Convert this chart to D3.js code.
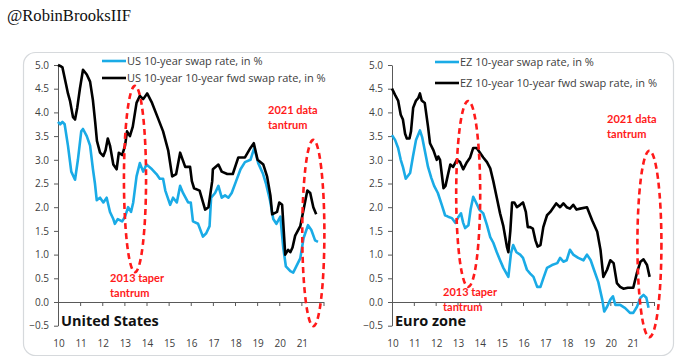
<!DOCTYPE html>
<html>
<head>
<meta charset="utf-8">
<script src="https://cdn.jsdelivr.net/npm/d3@7"></script>
<style>
  body { margin: 0; background: #fff; }
  svg { display: block; }
</style>
</head>
<body>
<svg id="chart"></svg>
<script>
// values, [year, %]
let usSwap = [[2010.0,3.8],[2010.1,3.75],[2010.2,3.8],[2010.3,3.75],[2010.45,3.3],[2010.6,2.75],[2010.77,2.58],[2010.9,3.0],[2011.05,3.6],[2011.13,3.65],[2011.3,3.5],[2011.45,3.3],[2011.58,2.8],[2011.67,2.5],[2011.75,2.15],[2011.9,2.2],[2012.05,2.1],[2012.2,2.2],[2012.35,1.9],[2012.5,1.75],[2012.57,1.65],[2012.7,1.75],[2012.9,1.7],[2013.03,1.8],[2013.17,2.0],[2013.3,1.9],[2013.4,2.1],[2013.55,2.65],[2013.7,2.93],[2013.85,2.75],[2014.0,2.9],[2014.25,2.8],[2014.45,2.7],[2014.6,2.6],[2014.75,2.6],[2014.85,2.35],[2015.07,2.05],[2015.2,2.2],[2015.37,2.1],[2015.52,2.45],[2015.65,2.3],[2015.88,2.1],[2016.0,2.1],[2016.1,1.7],[2016.33,1.65],[2016.55,1.38],[2016.7,1.45],[2016.85,1.6],[2016.92,2.2],[2017.1,2.3],[2017.25,2.45],[2017.4,2.2],[2017.55,2.25],[2017.7,2.2],[2017.85,2.3],[2018.05,2.55],[2018.25,2.8],[2018.45,2.95],[2018.7,3.0],[2018.87,3.25],[2019.05,2.93],[2019.27,2.7],[2019.4,2.5],[2019.58,2.15],[2019.73,1.75],[2019.87,1.65],[2020.05,1.8],[2020.18,1.15],[2020.3,0.75],[2020.5,0.65],[2020.63,0.62],[2020.77,0.75],[2020.95,0.92],[2021.1,1.35],[2021.3,1.62],[2021.45,1.52],[2021.62,1.3],[2021.75,1.27]]

let usFwd = [[2010.0,5.0],[2010.1,4.98],[2010.2,4.95],[2010.36,4.6],[2010.45,4.4],[2010.54,4.25],[2010.68,3.9],[2010.77,3.85],[2010.87,4.1],[2010.99,4.5],[2011.13,4.9],[2011.3,4.8],[2011.45,4.65],[2011.58,4.25],[2011.68,3.8],[2011.76,3.4],[2011.9,3.15],[2012.05,3.08],[2012.15,3.2],[2012.25,3.45],[2012.35,3.3],[2012.5,2.9],[2012.65,2.8],[2012.75,3.15],[2012.9,3.1],[2013.03,3.3],[2013.12,3.6],[2013.25,3.5],[2013.38,3.7],[2013.55,4.2],[2013.7,4.35],[2013.85,4.28],[2014.03,4.4],[2014.25,4.2],[2014.5,3.9],[2014.75,3.6],[2014.98,3.2],[2015.16,2.65],[2015.34,2.7],[2015.52,3.15],[2015.75,2.85],[2015.97,2.85],[2016.05,2.55],[2016.15,2.4],[2016.4,2.35],[2016.65,1.95],[2016.8,2.0],[2016.97,2.55],[2017.0,2.8],[2017.25,2.9],[2017.4,2.75],[2017.65,2.7],[2017.9,2.7],[2018.15,3.05],[2018.45,3.05],[2018.7,3.25],[2018.85,3.35],[2019.02,3.0],[2019.28,2.9],[2019.45,2.65],[2019.6,2.25],[2019.68,1.85],[2019.9,1.9],[2020.0,2.1],[2020.13,2.05],[2020.27,1.0],[2020.4,1.1],[2020.5,1.05],[2020.6,1.15],[2020.72,1.4],[2020.95,1.6],[2021.1,1.95],[2021.27,2.35],[2021.4,2.3],[2021.54,2.0],[2021.67,1.85]]

let ezSwap = [[2010.0,3.52],[2010.14,3.42],[2010.28,3.25],[2010.4,3.0],[2010.5,2.85],[2010.63,2.6],[2010.83,2.72],[2010.96,3.07],[2011.1,3.42],[2011.28,3.62],[2011.38,3.48],[2011.5,3.2],[2011.65,2.85],[2011.8,2.62],[2011.93,2.45],[2012.1,2.3],[2012.28,2.05],[2012.43,1.83],[2012.57,1.8],[2012.74,1.77],[2012.9,1.67],[2013.05,1.8],[2013.16,1.87],[2013.26,1.67],[2013.35,1.56],[2013.5,1.62],[2013.6,1.95],[2013.72,2.22],[2013.85,2.1],[2014.0,1.95],[2014.18,1.87],[2014.35,1.62],[2014.5,1.37],[2014.64,1.25],[2014.8,1.05],[2014.95,0.88],[2015.1,0.72],[2015.33,0.53],[2015.45,1.03],[2015.55,1.2],[2015.7,1.05],[2015.87,1.0],[2016.0,0.93],[2016.18,0.68],[2016.33,0.6],[2016.48,0.53],[2016.65,0.32],[2016.8,0.32],[2016.93,0.5],[2017.1,0.72],[2017.33,0.78],[2017.57,0.82],[2017.7,0.93],[2017.85,0.85],[2018.0,0.88],[2018.15,1.1],[2018.3,1.0],[2018.53,0.93],[2018.77,0.88],[2018.93,1.0],[2019.1,0.88],[2019.25,0.68],[2019.45,0.42],[2019.63,0.05],[2019.72,-0.2],[2019.85,-0.1],[2020.0,0.05],[2020.12,0.12],[2020.23,-0.06],[2020.45,-0.06],[2020.68,-0.13],[2020.9,-0.23],[2021.05,-0.23],[2021.22,-0.1],[2021.38,0.09],[2021.52,0.15],[2021.65,0.09],[2021.75,-0.12]]

let ezFwd = [[2010.0,4.5],[2010.14,4.37],[2010.28,4.25],[2010.4,3.95],[2010.5,3.85],[2010.6,3.55],[2010.68,3.45],[2010.8,3.45],[2010.87,3.6],[2010.97,4.1],[2011.1,4.25],[2011.2,4.3],[2011.28,4.4],[2011.36,4.25],[2011.5,4.2],[2011.65,3.7],[2011.74,3.35],[2011.9,3.2],[2012.05,3.0],[2012.12,3.07],[2012.2,3.0],[2012.28,2.7],[2012.36,2.4],[2012.45,2.45],[2012.57,2.7],[2012.67,2.9],[2012.8,2.85],[2012.97,3.0],[2013.12,2.95],[2013.26,2.8],[2013.43,2.95],[2013.58,3.05],[2013.72,3.25],[2013.88,3.25],[2014.03,3.15],[2014.18,3.05],[2014.35,2.95],[2014.5,2.82],[2014.64,2.55],[2014.8,2.2],[2014.95,1.87],[2015.1,1.6],[2015.27,1.15],[2015.33,1.05],[2015.42,1.5],[2015.5,2.1],[2015.6,2.1],[2015.72,2.0],[2015.87,2.05],[2016.0,2.1],[2016.13,1.9],[2016.22,1.58],[2016.33,1.58],[2016.45,1.55],[2016.57,1.3],[2016.67,1.17],[2016.8,1.2],[2016.93,1.58],[2017.1,1.83],[2017.25,1.9],[2017.4,2.0],[2017.52,2.08],[2017.7,2.0],[2017.85,2.08],[2018.0,2.0],[2018.15,1.97],[2018.3,2.05],[2018.45,1.95],[2018.62,1.97],[2018.93,2.0],[2019.17,1.72],[2019.4,1.48],[2019.55,1.1],[2019.68,0.53],[2019.85,0.68],[2020.0,0.88],[2020.15,0.82],[2020.3,0.4],[2020.45,0.32],[2020.6,0.28],[2020.8,0.3],[2021.05,0.3],[2021.22,0.62],[2021.38,0.85],[2021.52,0.9],[2021.68,0.78],[2021.8,0.53]]

let yTicks = [-0.5, 0, 0.5, 1, 1.5, 2, 2.5, 3, 3.5, 4, 4.5, 5]
let yearTicks = [2010,2011,2012,2013,2014,2015,2016,2017,2018,2019,2020,2021,2022]
let yearLabels = ["10","11","12","13","14","15","16","17","18","19","20","21"]

// tantrum ovals: centre year, half width in years, top and bottom in %
let usOvals = [{yr: 2013.48, hw: 0.5, top: 4.56, bot: 0.63}, {yr: 2021.54, hw: 0.5, top: 3.42, bot: -0.51}]
let ezOvals = [{yr: 2013.49, hw: 0.55, top: 4.24, bot: 0.32}, {yr: 2021.79, hw: 0.55, top: 3.19, bot: -0.74}]

let W = 683, H = 363
let blue = "#1AABE6"
let red = "#FF1A1A"
let grey = "#404040"
let font = "Lato, 'Open Sans', sans-serif"
let font2 = "'Open Sans', Lato, sans-serif"

let svg = d3.select("#chart").attr("width", W).attr("height", H)

svg.append("text")
    .attr("x", 7).attr("y", 21)
    .attr("font-family", "'Liberation Serif', 'DejaVu Serif', serif")
    .attr("font-size", 16.6)
    .attr("fill", "#111")
    .text("@RobinBrooksIIF")

svg.append("rect")
    .attr("x", 23.5).attr("y", 52.5)
    .attr("width", 650).attr("height", 303)
    .attr("rx", 12)
    .attr("fill", "none")
    .attr("stroke", "#d6d9dc")
    .attr("stroke-width", 1.2)

let panels = [
    {x0: 58, x1: 323.5, swap: usSwap, fwd: usFwd, ovals: usOvals, name: "United States",
     leg: ["US 10-year swap rate, in %", "US 10-year 10-year fwd swap rate, in %"], legX: 102, legY: [61, 78],
     tag: {x: 268, y: 114}, taper: {x: 110, y: 282}},
    {x0: 392, x1: 654, swap: ezSwap, fwd: ezFwd, ovals: ezOvals, name: "Euro zone",
     leg: ["EZ 10-year swap rate, in %", "EZ 10-year 10-year fwd swap rate, in %"], legX: 435, legY: [62, 83],
     tag: {x: 607, y: 123}, taper: {x: 443, y: 296}}
]

panels.forEach(function(p){
    let x = d3.scaleLinear().domain([2010, 2022]).range([p.x0, p.x1])
    let y = d3.scaleLinear().domain([-0.5, 5]).range([325.7, 65])

    let g = svg.append("g")

    // y axis
    let ya = g.append("g")
        .attr("transform", "translate(" + p.x0 + ",0)")
        .call(d3.axisLeft(y).tickValues(yTicks).tickSize(4).tickSizeOuter(0).tickPadding(5)
            .tickFormat(d3.format(".1f")))
    ya.select(".domain").attr("stroke", "#595959")
    ya.selectAll(".tick line").attr("stroke", "#595959")
    ya.selectAll("text").attr("font-family", font2).attr("font-size", 10).attr("fill", grey)

    // x axis sits on zero
    let xa = g.append("g")
        .attr("transform", "translate(0," + y(0) + ")")
        .call(d3.axisBottom(x).tickValues(yearTicks).tickSize(4).tickSizeOuter(0).tickFormat(""))
    xa.select(".domain").attr("stroke", "#595959")
    xa.selectAll(".tick line").attr("stroke", "#595959")

    g.selectAll(".yr")
        .data(yearLabels)
        .enter()
        .append("text")
        .attr("x", function(d, i){ return x(yearTicks[i]) + 1 })
        .attr("y", 347)
        .attr("text-anchor", "middle")
        .attr("font-family", font2).attr("font-size", 10).attr("fill", grey)
        .text(function(d){ return d })

    let line = d3.line()
        .x(function(d){ return x(d[0]) })
        .y(function(d){ return y(d[1]) })

    g.append("path").datum(p.swap)
        .attr("d", line).attr("fill", "none")
        .attr("stroke", blue).attr("stroke-width", 2.6).attr("stroke-linejoin", "round")
    g.append("path").datum(p.fwd)
        .attr("d", line).attr("fill", "none")
        .attr("stroke", "#000").attr("stroke-width", 2.6).attr("stroke-linejoin", "round")

    // dashed ovals
    g.selectAll(".oval")
        .data(p.ovals)
        .enter()
        .append("ellipse")
        .attr("cx", function(d){ return x(d.yr) })
        .attr("cy", function(d){ return (y(d.top) + y(d.bot)) / 2 })
        .attr("rx", function(d){ return x(d.yr + d.hw) - x(d.yr) })
        .attr("ry", function(d){ return (y(d.bot) - y(d.top)) / 2 })
        .attr("fill", "none")
        .attr("stroke", red).attr("stroke-width", 2.6)
        .attr("stroke-dasharray", "6,4")

    // legend
    let colors = [blue, "#000"]
    p.leg.forEach(function(t, i){
        g.append("line")
            .attr("x1", p.legX).attr("x2", p.legX + 24)
            .attr("y1", p.legY[i]).attr("y2", p.legY[i])
            .attr("stroke", colors[i]).attr("stroke-width", 2.6)
        g.append("text")
            .attr("x", p.legX + 25).attr("y", p.legY[i] + 3.8)
            .attr("font-family", font2).attr("font-size", 11).attr("fill", grey)
            .text(t)
    })

    // red notes
    let notes = [[p.tag.x, p.tag.y, "2021 data"], [p.tag.x, p.tag.y + 15, "tantrum"],
                 [p.taper.x, p.taper.y, "2013 taper"], [p.taper.x, p.taper.y + 15, "tantrum"]]
    notes.forEach(function(n){
        g.append("text")
            .attr("x", n[0]).attr("y", n[1])
            .attr("font-family", font).attr("font-weight", "bold")
            .attr("font-size", 11).attr("fill", red)
            .text(n[2])
    })

    g.append("text")
        .attr("x", p.x0 + 3).attr("y", 326)
        .attr("font-family", font2).attr("font-weight", "bold")
        .attr("font-size", 14.5).attr("fill", "#111")
        .text(p.name)
})
</script>
</body>
</html>
